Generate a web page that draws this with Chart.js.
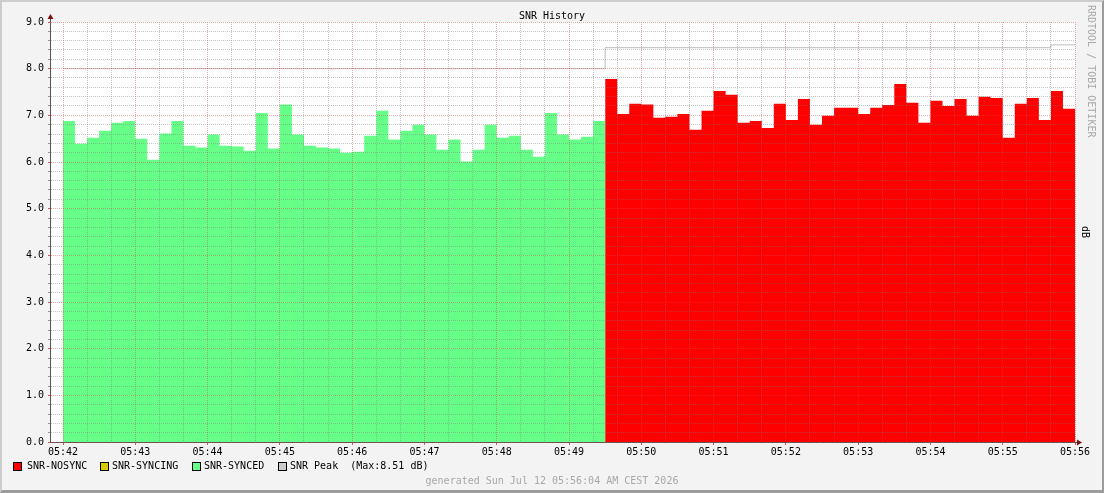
<!DOCTYPE html>
<html>
<head>
<meta charset="utf-8">
<title>SNR History</title>
<script src="https://cdn.jsdelivr.net/npm/chart.js@4.4.1/dist/chart.umd.min.js"></script>
<style>
  html, body { margin: 0; padding: 0; }
  body { width: 1104px; height: 493px; overflow: hidden; background: #f3f3f3; position: relative; }
  #snr { position: absolute; left: 0; top: 0; }
  .txt { position: absolute; font: 10px 'DejaVu Sans Mono', monospace; line-height: 10px; white-space: pre; color: #000; }
  .box { position: absolute; top: 462px; width: 9px; height: 9px; box-sizing: border-box; border: 1px solid #000; }
  #frame { position: absolute; left: 0; top: 0; width: 1104px; height: 493px; box-sizing: border-box;
    border-top: 2px solid #cdcdcd; border-left: 2px solid #cdcdcd; border-right: 2px solid #9c9c9c; border-bottom: 3px solid #9c9c9c;
    pointer-events: none; }
</style>
</head>
<body>
<canvas id="snr" width="1104" height="493"></canvas>

<div class="txt" style="left:0;top:11px;width:1104px;text-align:center;">SNR History</div>
<div class="txt" style="left:1025px;top:66px;width:132px;color:#a8a8a8;transform:rotate(90deg);">RRDTOOL / TOBI OETIKER</div>
<div class="txt" style="left:1079px;top:227px;width:12px;transform:rotate(90deg);">dB</div>

<div class="box" style="left:13px;background:#ff0000;"></div>
<div class="txt" style="left:27px;top:461px;">SNR-NOSYNC</div>
<div class="box" style="left:100px;background:#d8cc00;"></div>
<div class="txt" style="left:112px;top:461px;">SNR-SYNCING</div>
<div class="box" style="left:192px;background:#66ff88;"></div>
<div class="txt" style="left:204px;top:461px;">SNR-SYNCED</div>
<div class="box" style="left:278px;background:#cccccc;"></div>
<div class="txt" style="left:290px;top:461px;">SNR Peak  (Max:8.51 dB)</div>

<div class="txt" style="left:0;top:476px;width:1104px;text-align:center;color:#a8a8a8;">generated Sun Jul 12 05:56:04 AM CEST 2026</div>
<div id="frame"></div>

<script>
// minute labels on the time axis (05:42 .. 05:56)
const minuteLabels = ['05:42', '05:43', '05:44', '05:45', '05:46', '05:47', '05:48',
  '05:49', '05:50', '05:51', '05:52', '05:53', '05:54', '05:55', '05:56'];

// one sample every 10 seconds starting at 05:42:00
const stepSeconds = 10;

// SNR while synced (green), 05:42:00 - 05:49:30
const syncedValues = [6.88, 6.39, 6.52, 6.67, 6.84, 6.88, 6.50, 6.05, 6.61, 6.88,
  6.35, 6.31, 6.59, 6.35, 6.33, 6.24, 7.05, 6.29, 7.23, 6.59,
  6.35, 6.31, 6.29, 6.20, 6.22, 6.56, 7.10, 6.48, 6.67, 6.80,
  6.59, 6.26, 6.48, 6.01, 6.26, 6.80, 6.52, 6.56, 6.26, 6.11,
  7.05, 6.59, 6.48, 6.54, 6.88];

// SNR without sync (red), 05:49:30 - 05:56:00
const nosyncValues = [7.78, 7.03, 7.25, 7.23, 6.95, 6.97, 7.03, 6.69, 7.10, 7.52,
  7.44, 6.84, 6.88, 6.73, 7.25, 6.90, 7.35, 6.80, 6.99, 7.16,
  7.16, 7.03, 7.16, 7.22, 7.67, 7.27, 6.84, 7.31, 7.20, 7.35,
  6.99, 7.40, 7.37, 6.52, 7.25, 7.37, 6.90, 7.52, 7.14];

// running peak (seconds after 05:42:00)
const peakTimes = [0, 450, 820, 840];
const peakValues = [8.0, 8.45, 8.51, 8.51];

const syncedPoints = syncedValues.map((v, i) => ({ x: i * stepSeconds, y: v }));
syncedPoints.push({ x: syncedValues.length * stepSeconds, y: syncedValues[syncedValues.length - 1] });

const nosyncStart = syncedValues.length * stepSeconds;
const nosyncPoints = nosyncValues.map((v, i) => ({ x: nosyncStart + i * stepSeconds, y: v }));
nosyncPoints.push({ x: nosyncStart + nosyncValues.length * stepSeconds, y: nosyncValues[nosyncValues.length - 1] });

const peakPoints = peakTimes.map((t, i) => ({ x: t, y: peakValues[i] }));

const endSeconds = (minuteLabels.length - 1) * 60;
const monoFont = { family: "'DejaVu Sans Mono', monospace", size: 10 };

const isMinute = (v) => Math.abs(v % 60) < 1e-6;
const isWhole = (v) => Math.abs(v - Math.round(v)) < 1e-6;

const majorGrid = 'rgba(205,70,70,0.45)';
const minorGrid = 'rgba(120,120,120,0.42)';

// white plot area like rrdtool's canvas
const plotBackground = {
  id: 'plotBackground',
  beforeDraw(chart) {
    const { ctx, chartArea: a } = chart;
    ctx.save();
    ctx.fillStyle = '#ffffff';
    ctx.fillRect(a.left, a.top, a.right - a.left, a.bottom - a.top);
    ctx.restore();
  }
};

// axis arrows
const axisArrows = {
  id: 'axisArrows',
  afterDraw(chart) {
    const { ctx, chartArea: a } = chart;
    const x0 = Math.round(a.left) + 0.5;
    const y0 = Math.round(a.bottom) + 0.5;
    ctx.save();
    ctx.strokeStyle = '#555';
    ctx.lineWidth = 1;
    ctx.beginPath();
    ctx.moveTo(x0, a.top);
    ctx.lineTo(x0, a.top - 4);
    ctx.moveTo(a.right, y0);
    ctx.lineTo(a.right + 3, y0);
    ctx.stroke();
    ctx.fillStyle = '#7a1010';
    ctx.beginPath();
    ctx.moveTo(x0 - 3, a.top - 3);
    ctx.lineTo(x0 + 3, a.top - 3);
    ctx.lineTo(x0, a.top - 8);
    ctx.closePath();
    ctx.fill();
    ctx.beginPath();
    ctx.moveTo(a.right + 2, y0 - 3);
    ctx.lineTo(a.right + 2, y0 + 3);
    ctx.lineTo(a.right + 7, y0);
    ctx.closePath();
    ctx.fill();
    ctx.restore();
  }
};

new Chart(document.getElementById('snr'), {
  type: 'line',
  data: {
    datasets: [
      {
        label: 'SNR Peak',
        data: peakPoints,
        stepped: true,
        borderColor: '#bdbdbd',
        borderWidth: 1,
        pointRadius: 0,
        fill: false
      },
      {
        label: 'SNR-NOSYNC',
        data: nosyncPoints,
        stepped: true,
        borderWidth: 0,
        borderColor: 'rgba(0,0,0,0)',
        backgroundColor: '#ff0000',
        pointRadius: 0,
        fill: 'origin'
      },
      {
        label: 'SNR-SYNCED',
        data: syncedPoints,
        stepped: true,
        borderWidth: 0,
        borderColor: 'rgba(0,0,0,0)',
        backgroundColor: '#66ff88',
        pointRadius: 0,
        fill: 'origin'
      }
    ]
  },
  options: {
    responsive: false,
    animation: false,
    events: [],
    layout: { padding: { left: 0, top: 22, right: 29, bottom: 0 } },
    plugins: {
      legend: { display: false },
      title: { display: false },
      tooltip: { enabled: false }
    },
    scales: {
      x: {
        type: 'linear',
        min: -10.8,
        max: endSeconds,
        afterBuildTicks: (axis) => {
          const ticks = [];
          for (let t = 0; t <= endSeconds; t += 20) ticks.push({ value: t });
          axis.ticks = ticks;
        },
        afterFit: (axis) => { axis.height = 51; },
        ticks: {
          autoSkip: false,
          maxRotation: 0,
          padding: 1,
          color: '#000',
          font: monoFont,
          callback: (v) => (isMinute(v) ? minuteLabels[Math.round(v / 60)] : '')
        },
        grid: {
          z: 1,
          lineWidth: 1,
          color: (c) => (c.tick && isMinute(c.tick.value) ? majorGrid : minorGrid),
          tickLength: 3,
          tickColor: (c) => (c.tick && isMinute(c.tick.value) ? 'rgba(220,40,40,0.8)' : 'rgba(0,0,0,0)')
        },
        border: { z: 1, color: '#555', width: 1, dash: [1, 1] }
      },
      y: {
        type: 'linear',
        min: 0,
        max: 9,
        afterBuildTicks: (axis) => {
          const ticks = [];
          for (let k = 0; k <= 45; k++) ticks.push({ value: k / 5 });
          axis.ticks = ticks;
        },
        afterFit: (axis) => { axis.width = 50; },
        ticks: {
          autoSkip: false,
          padding: 4,
          color: '#000',
          font: monoFont,
          callback: (v) => (isWhole(v) ? Number(v).toFixed(1) : '')
        },
        grid: {
          z: 1,
          lineWidth: 1,
          color: (c) => (c.tick && isWhole(c.tick.value) ? majorGrid : minorGrid),
          tickLength: 2,
          tickColor: (c) => (c.tick && isWhole(c.tick.value) ? 'rgba(200,40,40,0.8)' : 'rgba(90,90,90,0.6)')
        },
        border: { z: 1, color: '#555', width: 1, dash: [1, 1] }
      }
    }
  },
  plugins: [plotBackground, axisArrows]
});
</script>
</body>
</html>
